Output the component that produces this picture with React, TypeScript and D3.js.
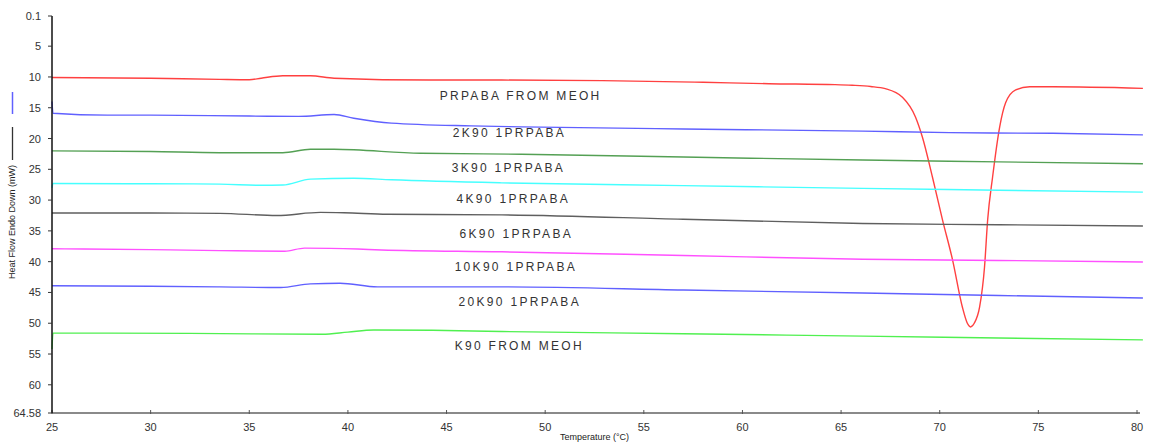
import React from "react";
import * as d3 from "d3";

// ---------- DATA ----------
const seriesNames = [
  "PRPABA FROM MEOH",
  "2K90 1PRPABA",
  "3K90 1PRPABA",
  "4K90 1PRPABA",
  "6K90 1PRPABA",
  "10K90 1PRPABA",
  "20K90 1PRPABA",
  "K90 FROM MEOH",
];

// [temperature °C, heat flow mW]
const prpabaMeoh: [number, number][] = [
  [25, 10.1], [30, 10.2], [33.5, 10.4], [35, 10.45], [35.6, 10.2], [36.7, 9.8], [38.1, 9.8],
  [39.3, 10.2], [44.2, 10.5], [47.8, 10.5], [52.9, 10.6], [58.0, 10.87], [61.35, 11.1],
  [64.7, 11.25], [65.56, 11.35], [66.5, 11.55], [67.24, 11.9], [68.11, 13.3], [68.77, 16.5],
  [69.12, 19.75], [69.63, 26.25], [70.14, 33.2], [70.65, 39.7], [71.15, 47.4], [71.4, 50.0],
  [71.56, 50.6], [71.75, 50.0], [72.02, 47.4], [72.27, 40.9], [72.43, 33.2], [72.68, 26.25],
  [73.04, 18.1], [73.34, 14.2], [73.85, 12.1], [74.56, 11.6], [75.73, 11.6], [80.3, 11.85],
];
const k90p2: [number, number][] = [
  [25, 14.0], [25.05, 15.9], [27.8, 16.2], [30, 16.2], [35, 16.35], [37.5, 16.4], [39.3, 16.1],
  [40.3, 16.7], [42.2, 17.5], [46.25, 17.95], [48.8, 18.1], [57, 18.45], [66.1, 18.8],
  [70.5, 19.05], [75.73, 19.15], [80.3, 19.4],
];
const k90p3: [number, number][] = [
  [25, 22.0], [30, 22.1], [33.5, 22.3], [36.7, 22.3], [38.1, 21.75], [39.3, 21.75],
  [43.7, 22.4], [48.8, 22.55], [57, 23.0], [66.1, 23.5], [73, 23.8], [80.3, 24.1],
];
const k90p4: [number, number][] = [
  [25, 28.0], [25.05, 27.3], [30, 27.35], [33.5, 27.4], [35.6, 27.6], [36.7, 27.55], [38.1, 26.6],
  [40.3, 26.45], [42.2, 26.7], [47.8, 27.2], [57, 27.65], [66.1, 28.1], [73, 28.4], [80.3, 28.7],
];
const k90p6: [number, number][] = [
  [25, 32.1], [30, 32.1], [33.5, 32.15], [36.4, 32.5], [38.6, 32.0], [39.8, 32.05], [42.0, 32.3],
  [47.8, 32.4], [57, 33.1], [66.1, 33.8], [73, 34.0], [80.3, 34.2],
];
const k90p10: [number, number][] = [
  [25, 37.9], [30, 38.05], [33.5, 38.2], [36.8, 38.3], [37.8, 37.8], [40.5, 37.95], [41.7, 38.1],
  [47.8, 38.4], [57, 39.0], [66.1, 39.6], [73, 39.8], [80.3, 40.05],
];
const k90p20: [number, number][] = [
  [25, 43.9], [30, 44.0], [33.5, 44.1], [36.6, 44.2], [38.1, 43.6], [39.6, 43.5], [41.5, 44.1],
  [47.8, 44.1], [57, 44.6], [66.1, 45.1], [73, 45.5], [80.3, 45.9],
];
const k90Meoh: [number, number][] = [
  [25, 54.2], [25.05, 51.6], [32, 51.65], [38.7, 51.8], [40.0, 51.45], [41.3, 51.1], [44.3, 51.15],
  [47.8, 51.35], [57, 51.7], [66.1, 52.1], [73, 52.4], [80.3, 52.7],
];

const seriesData = [prpabaMeoh, k90p2, k90p3, k90p4, k90p6, k90p10, k90p20, k90Meoh];

// label anchor (start temperature, baseline heat flow)
const labelTemps = [44.65, 45.31, 45.26, 45.51, 45.66, 45.41, 45.61, 45.41];
const labelValues = [13.74, 19.75, 25.44, 30.47, 36.16, 41.52, 47.2, 54.27];

const xTicks = [25, 30, 35, 40, 45, 50, 55, 60, 65, 70, 75, 80];
const yTicks = [0.1, 5, 10, 15, 20, 25, 30, 35, 40, 45, 50, 55, 60, 64.58];

const xTitle = "Temperature (°C)";
const yTitle = "Heat Flow Endo Down (mW)";

// ---------- STYLE ----------
const colors = [
  "rgb(255,64,64)",
  "rgb(96,96,255)",
  "rgb(84,160,84)",
  "rgb(70,255,255)",
  "rgb(95,95,95)",
  "rgb(255,80,255)",
  "rgb(96,96,255)",
  "rgb(80,240,80)",
];

const W = 1156;
const H = 442;

export default function App() {
  const x = d3.scaleLinear().domain([25, 80]).range([52, 1137]);
  const y = d3.scaleLinear().domain([0.1, 64.58]).range([16, 413]);
  const line = d3
    .line<[number, number]>()
    .x((d) => x(d[0]))
    .y((d) => y(d[1]))
    .curve(d3.curveMonotoneX);

  const font = "Arial, 'Liberation Sans', Helvetica, sans-serif";

  return (
    <svg
      width={W}
      height={H}
      style={{ position: "absolute", left: 0, top: 0, background: "#fff" }}
      fontFamily={font}
    >
      <rect x={0} y={0} width={W} height={H} fill="#fff" />

      {/* series */}
      {seriesData.map((d, i) => (
        <path
          key={i}
          d={line(d) || ""}
          fill="none"
          stroke={colors[i]}
          strokeWidth={1.4}
          strokeLinejoin="round"
        />
      ))}

      {/* labels */}
      {seriesNames.map((name, i) => (
        <text
          key={name}
          x={x(labelTemps[i])}
          y={y(labelValues[i])}
          fontSize={12}
          letterSpacing={2.3}
          fill="#333"
        >
          {name}
        </text>
      ))}

      {/* x axis */}
      <line x1={x(25)} x2={x(80) + 3} y1={y(64.58)} y2={y(64.58)} stroke="#8a8a8a" strokeWidth={2.2} />
      {xTicks.map((t) => (
        <g key={t}>
          <line x1={x(t)} x2={x(t)} y1={y(64.58) - 3} y2={y(64.58) + 1} stroke="#555" strokeWidth={1} />
          <text x={x(t)} y={431} fontSize={11} textAnchor="middle" fill="#333">
            {t}
          </text>
        </g>
      ))}
      <text x={(x(25) + x(80)) / 2} y={440} fontSize={9} textAnchor="middle" fill="#222">
        {xTitle}
      </text>

      {/* y axis */}
      <line x1={x(25)} x2={x(25)} y1={y(0.1)} y2={y(64.58)} stroke="#111" strokeWidth={1.5} />
      {yTicks.map((t) => (
        <g key={t}>
          <line x1={x(25) - 4} x2={x(25)} y1={y(t)} y2={y(t)} stroke="#333" strokeWidth={1} />
          <text x={41} y={y(t) + 4} fontSize={11} textAnchor="end" fill="#333">
            {t}
          </text>
        </g>
      ))}
      <text
        transform={`translate(15,222) rotate(-90)`}
        fontSize={9}
        textAnchor="middle"
        fill="#222"
      >
        {yTitle}
      </text>
      {/* legend glyphs in the axis title */}
      <line x1={12.5} x2={12.5} y1={127} y2={160} stroke="#333" strokeWidth={1.3} />
      <line x1={12.5} x2={12.5} y1={92} y2={114} stroke={colors[1]} strokeWidth={1.5} />
    </svg>
  );
}
